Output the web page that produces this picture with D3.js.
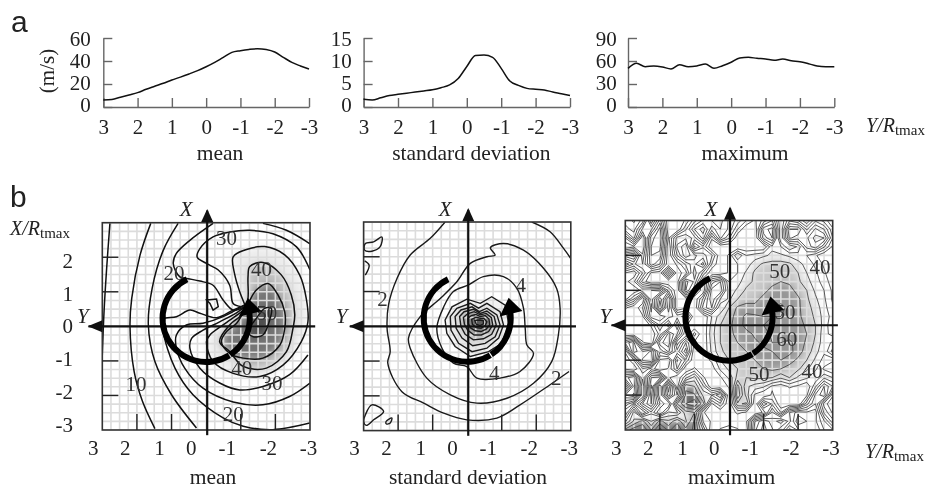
<!DOCTYPE html>
<html>
<head>
<meta charset="utf-8">
<script src="https://cdn.jsdelivr.net/npm/d3@7"></script>
<style>
  html, body { margin: 0; background: #fff; }
  svg { display: block; filter: blur(0.45px); }
  text { font-family: "Liberation Serif", serif; fill: #222; }
</style>
</head>
<body>
<svg id="chart" width="927" height="489"></svg>
<script>
// profiles along Y/Rtmax, one value every 0.25
const profileY = [3,2.75,2.5,2.25,2,1.75,1.5,1.25,1,0.75,0.5,0.25,0,-0.25,-0.5,-0.75,-1,-1.25,-1.5,-1.75,-2,-2.25,-2.5,-2.75,-3]
const meanProfile = [6,6.5,8.5,10.5,12.5,15.4,18,20.6,23.5,26,28.7,31.6,35,38.8,43.2,47.5,49,50.1,50.7,50,47.8,43.2,38.8,35.7,33]
const stdProfile = [1.67,1.5,2,2.5,2.75,3,3.25,3.5,3.75,4.2,4.8,6.2,8.8,11.2,11.3,10.8,8.4,5.65,4.7,4.05,3.85,3.7,3.25,2.9,2.5]
const maxProfile = [50.4,57,52.6,53.5,52.2,49.6,55.2,52.6,53.5,56,50.4,53.9,58.3,63.9,64.8,63.5,62.6,60.9,62.6,60.4,59.1,56.5,53.5,52.6,52.6]

const xTicks = [3,2,1,0,-1,-2,-3]
const meanTicks = [0,20,40,60]
const stdTicks = [0,5,10,15]
const maxTicks = [0,30,60,90]

// contour lines of the mean panel, [Y, X]
const meanLines = [
  [[2.78,2.98],[2.875,1.67],[2.95,0.42],[3,-0.83]],
  [[1.6,2.98],[1.91,2.06],[2.15,0.81],[2.2,0],[2.08,-1.31],[1.84,-2.17],[1.48,-2.96]],
  [[0.81,2.98],[1.24,2.2],[1.56,1.1],[1.67,0.04],[1.48,-1.02],[1,-1.98],[0.28,-2.94]],
  [[-0.2,2.98],[0.47,2.49],[0.86,2.11],[0.95,1.82],[0.76,1.43],[0.52,1.38],[0.18,1.31],[-0.2,1.19],[-0.49,0.76],[-0.78,0.47],[-1.12,0.57]],
  [[-2.99,-2.8],[-1.93,-2.99],[-1.07,-2.89],[-0.49,-2.65],[0.38,-1.98],[0.9,-1.21],[1.24,-0.15],[1.24,0.21],[0.86,0.28],[0.47,0.47],[0.18,0.38],[-0.3,0.25],[-0.78,0.47],[-1.12,0.62]],
  [[-3,-1.64],[-2.41,-2.03],[-1.64,-2.27],[-0.78,-2.19],[0.09,-1.79],[0.62,-1.21],[0.86,-0.63],[0.86,-0.25],[0.57,0.04],[0.09,0.09],[-0.49,0.28],[-1.12,0.62]],
  [[-2.94,-0.83],[-2.41,-1.4],[-1.64,-1.74],[-0.97,-1.84],[-0.39,-1.64],[0.18,-1.21],[0.47,-0.63],[0.42,-0.35],[0.09,-0.11],[-0.39,0.13],[-0.92,0.42],[-1.16,0.62]],
  [[-3,1.63],[-2.61,2.3],[-1.93,2.68],[-1.26,2.78],[-0.68,2.73],[-0.2,2.59],[0.18,2.25],[0.26,2.01],[-0.01,1.82],[-0.35,1.63],[-0.68,1.19],[-0.78,0.66],[-1.02,0.57]],
  [[-3,2.39],[-2.32,2.78],[-1.64,2.98]]
]
const meanRing35 = [[-1.21,0.57],[-0.97,0.38],[-0.49,0.04],[-0.11,-0.25],[-0.01,-0.44],[-0.2,-1.02],[-0.78,-1.36],[-1.55,-1.45],[-2.22,-1.12],[-2.75,-0.44],[-2.94,0.13],[-2.89,0.82],[-2.7,1.49],[-2.27,2.07],[-1.69,2.31],[-1.12,2.21],[-0.78,2.01],[-0.83,1.48],[-0.97,1],[-1.12,0.62]]
const meanRing40 = [[-1.26,1.73],[-1.64,1.85],[-2.17,1.49],[-2.46,0.91],[-2.56,0.34],[-2.51,-0.05],[-2.32,-0.73],[-1.74,-1.21],[-1.07,-1.16],[-0.68,-0.73],[-0.39,-0.44],[-0.68,0.04],[-1.12,0.42],[-1.21,0.82],[-1.21,1.44]]
const meanRing45 = [[-1.21,0.66],[-1.45,1.05],[-1.79,1.24],[-2.08,0.9],[-2.27,0.42],[-2.27,-0.06],[-2.13,-0.54],[-1.64,-0.92],[-1.07,-0.92],[-0.68,-0.78],[-0.44,-0.44],[-0.59,-0.15],[-0.88,0.09]]
const meanRing50 = [[-1.21,-0.15],[-1.36,-0.3],[-1.64,-0.25],[-1.79,0.04],[-1.88,0.52],[-1.69,0.52],[-1.45,0.23]]
const meanLoop = [[-0.01,0.76],[-0.3,0.79],[-0.35,0.57],[-0.2,0.47],[-0.11,0.66]]
const meanLabels = [['30',-0.59,2.58],['20',0.93,1.54],['40',-1.6,1.66],['50',-1.75,0.41],['40',-1.03,-1.2],['30',-1.9,-1.64],['10',2.03,-1.67],['20',-0.78,-2.53]]

// contour lines of the standard deviation panel
const stdOpen = [
  [[0.64,3],[1.07,2.53],[1.65,2.05],[2.03,1.38],[2.28,0.61],[2.32,-0.06],[2.23,-0.73],[2.3,-1.06],[1.89,-1.88],[1.26,-2.21],[0.68,-2.5],[0.01,-2.69],[-0.86,-2.64],[-1.53,-2.26],[-2.4,-1.68],[-2.95,-1.3]],
  [[-1.87,3],[-2.4,2.72],[-2.79,2.24],[-3,1.95]],
  [[2.97,1.88],[2.84,1.76],[2.95,1.47]]
]
const stdClosed = [
  [[-0.81,2.05],[-0.67,2.26],[-1.05,2.38],[-1.63,2.19],[-2.21,1.67],[-2.59,1.09],[-2.69,0.52],[-2.64,-0.25],[-2.45,-1.01],[-1.92,-1.64],[-1.15,-2.07],[-0.28,-2.21],[0.49,-1.97],[1.17,-1.49],[1.65,-0.63],[1.7,-0.34],[1.36,0.28],[0.78,0.8],[0.3,1.28],[-0.09,1.81],[-0.57,2]],
  [[-0.04,1.19],[-0.47,1.43],[-1.05,1.43],[-1.44,1.09],[-1.63,0.52],[-1.68,-0.06],[-1.73,-0.54],[-1.92,-0.78],[-1.53,-1.3],[-0.95,-1.49],[-0.28,-1.49],[0.01,-1.16],[0.4,-1.06],[0.73,-0.63],[0.88,-0.06],[0.68,0.56],[0.4,1]],
  [[2.95,2.38],[2.71,2.43],[2.47,2.57],[2.52,2.29],[2.76,2.16],[2.97,2.19]],
  [[2.95,-2.55],[2.76,-2.26],[2.42,-2.45],[2.71,-2.69],[2.92,-2.85],[3,-2.74]],
  [[2.35,-2.74],[2.18,-2.64],[2.23,-2.78],[2.34,-2.81]]
]
// heart shaped rings round the peak, outside to inside
const stdRings = [
  [[0.64,0.18],[0.44,0.56],[0.01,0.78],[-0.38,0.66],[-0.71,0.85],[-1.1,0.61],[-1.2,0.09],[-1,-0.49],[-0.62,-0.73],[-0.09,-0.87],[0.35,-0.58],[0.59,-0.2]],
  [[0.49,0.28],[0.3,0.52],[-0.09,0.66],[-0.33,0.52],[-0.57,0.66],[-0.95,0.42],[-1.05,0.04],[-0.91,-0.34],[-0.57,-0.63],[-0.14,-0.73],[0.25,-0.49],[0.47,-0.11]],
  [[0.35,0.28],[0.18,0.47],[-0.14,0.56],[-0.35,0.42],[-0.57,0.52],[-0.86,0.33],[-0.95,0.04],[-0.81,-0.3],[-0.52,-0.49],[-0.16,-0.56],[0.15,-0.34],[0.32,-0.06]],
  [[0.22,0.28],[0.09,0.42],[-0.18,0.49],[-0.38,0.37],[-0.57,0.44],[-0.78,0.28],[-0.84,0.04],[-0.71,-0.23],[-0.47,-0.36],[-0.18,-0.39],[0.06,-0.23],[0.18,-0.01]],
  [[0.11,0.25],[-0.01,0.36],[-0.2,0.42],[-0.38,0.33],[-0.55,0.37],[-0.7,0.25],[-0.74,0.04],[-0.62,-0.15],[-0.41,-0.25],[-0.2,-0.25],[-0.01,-0.11],[0.08,0.06]],
  [[-0.02,0.23],[-0.12,0.31],[-0.25,0.34],[-0.38,0.28],[-0.52,0.31],[-0.63,0.21],[-0.65,0.04],[-0.55,-0.08],[-0.4,-0.15],[-0.23,-0.13],[-0.09,-0.04],[-0.03,0.09]],
  [[-0.13,0.2],[-0.25,0.26],[-0.38,0.23],[-0.48,0.23],[-0.57,0.13],[-0.52,0.02],[-0.4,-0.06],[-0.26,-0.04],[-0.15,0.06]],
  [[-0.22,0.17],[-0.36,0.18],[-0.47,0.16],[-0.47,0.07],[-0.37,0.02],[-0.26,0.06]]
]
const stdRingFill = ['#f2f2f2','#e8e8e8','#d8d8d8','#c4c4c4','#a4a4a4','#848484','#6a6a6a','#585858']
const stdLabels = [['2',2.45,0.79],['4',-1.55,1.2],['4',-0.78,-1.32],['2',-2.58,-1.48]]

const maxGrid = [
  [62,66,58,30,52,30,30,36,48,56,60,62,54,48,40,34,42,50,30,44,40,30,44,38,30],
  [58,62,44,44,62,30,30,44,60,68,52,60,54,40,30,30,58,62,30,60,60,44,56,50,36],
  [40,56,30,58,64,34,52,54,48,62,36,56,46,30,30,30,52,60,30,56,52,54,62,60,40],
  [30,34,30,60,62,30,56,64,34,44,30,30,30,30,30,30,30,44,40,30,36,52,58,46,34],
  [58,62,36,60,58,30,50,64,56,52,46,30,36,50,40,42,44,46,46,44,42,40,36,30,30],
  [36,46,40,58,50,30,36,46,54,62,40,30,36,40,42,48,51,52,52,51,47,43,39,34,30],
  [60,64,50,34,32,56,32,38,58,44,30,30,36,40,46,51,52,53,53,52,50,45,41,36,30],
  [62,56,38,30,30,30,32,62,54,30,52,60,40,43,48,51,53,54,55,54,51,47,42,38,32],
  [60,64,58,60,62,44,30,60,46,30,62,64,42,46,51,52,54,56,58,57,53,50,44,40,34],
  [62,50,30,58,36,60,30,32,30,46,64,50,44,50,52,54,56,58,59,58,56,51,46,41,34],
  [36,30,40,62,30,58,30,34,30,52,60,40,50,56,58,56,57,59,61,59,56,52,48,42,36],
  [30,30,34,58,60,52,48,52,30,30,40,48,52,58,61,61,60,60,60,58,56,53,49,43,38],
  [30,30,30,36,50,36,60,36,30,30,42,50,54,57,62,62,60,58,57,58,57,54,50,43,36],
  [30,30,30,30,42,62,50,30,42,30,43,50,54,56,58,61,62,59,57,58,58,55,50,42,38],
  [56,66,36,30,58,64,32,50,34,30,42,50,53,55,57,59,61,60,60,61,58,54,49,42,46],
  [36,68,60,66,46,56,42,58,30,30,41,49,52,54,55,57,59,60,62,62,57,53,47,41,52],
  [30,40,66,70,34,30,56,44,30,32,36,45,50,52,54,55,57,58,60,57,54,50,44,38,36],
  [34,30,44,38,30,36,50,30,36,30,32,41,46,50,52,54,55,56,55,53,51,46,41,34,30],
  [58,64,36,60,62,36,30,44,52,36,30,34,41,52,50,51,51,50,46,50,44,41,36,44,40],
  [36,62,30,66,30,64,32,64,60,46,30,30,36,62,46,43,41,34,32,36,34,30,44,60,50],
  [60,66,30,62,30,58,40,66,66,54,50,60,30,64,48,34,30,36,30,30,30,34,56,64,36],
  [44,34,50,60,40,30,60,70,74,62,34,44,30,54,56,30,54,44,30,30,30,48,60,38,30],
  [30,52,30,44,30,46,44,58,60,36,30,30,32,36,34,30,36,56,40,60,68,66,68,44,34],
  [44,56,62,50,62,56,64,54,66,40,34,30,30,30,34,60,70,62,68,58,74,70,66,56,42],
  [62,68,70,60,72,64,68,62,66,50,30,36,40,36,30,64,72,66,56,72,64,68,70,60,56]
]
const maxThresholds = [35,40,45,50,55,60,65,70]
const maxFill = {45:'#ececec',50:'#c8c8c8',55:'#969696',60:'#686868'}
const maxLabels = [['50',-1.47,1.57],['40',-2.63,1.69],['50',-1.62,0.4],['60',-1.67,-0.37],['50',-0.87,-1.4],['40',-2.4,-1.31]]

const gridStep = d3.range(-3, 3.01, 0.25)
const inner = [2,1,-1,-2]

const svg = d3.select('#chart')
const defs = svg.append('defs')
defs.append('filter').attr('id', 'soft').attr('x', '-20%').attr('y', '-20%').attr('width', '140%').attr('height', '140%')
  .append('feGaussianBlur').attr('stdDeviation', 4)
defs.append('filter').attr('id', 'softer')
  .append('feGaussianBlur').attr('stdDeviation', 1.5)

function subLabel(g, name, x, y) {
  const t = g.append('text').attr('x', x).attr('y', y).attr('font-size', 20)
  t.append('tspan').attr('font-style', 'italic').text(name + '/R')
  t.append('tspan').attr('font-size', 15).attr('dy', 3).text('tmax')
}

// top row
function profile(values, ticks, top, x0, x1, labelEnd, title, titleX) {
  const g = svg.append('g')
  const x = d3.scaleLinear().domain([3, -3]).range([x0, x1])
  const y = d3.scaleLinear().domain([0, top]).range([107, 38])
  const labelY = d3.scaleLinear().domain([0, top]).range([111.5, 45])

  const xAxis = g.append('g').attr('transform', 'translate(0,107)')
    .call(d3.axisBottom(x).tickValues(xTicks).tickFormat(d => String(d)).tickSizeInner(-9).tickSizeOuter(0))
  xAxis.selectAll('text').attr('y', 27).attr('dy', 0).attr('font-size', 21)
    .attr('font-family', 'Liberation Serif').attr('fill', '#222')
  const yAxis = g.append('g').attr('transform', `translate(${x0},0)`)
    .call(d3.axisLeft(y).tickValues(ticks).tickFormat(d => String(d)).tickSizeInner(-9).tickSizeOuter(0))
  yAxis.selectAll('text').attr('x', labelEnd - x0).attr('dy', 0)
    .attr('y', d => labelY(d) - y(d)).attr('font-size', 21)
    .attr('font-family', 'Liberation Serif').attr('fill', '#222')
  g.selectAll('path.domain, .tick line').attr('stroke', '#666').attr('stroke-width', 1.4)

  g.append('path').datum(values)
    .attr('fill', 'none').attr('stroke', '#111').attr('stroke-width', 1.5)
    .attr('d', d3.line().x((d, i) => x(profileY[i])).y(d => y(d)).curve(d3.curveMonotoneX))

  g.append('text').attr('x', titleX).attr('y', 160).attr('text-anchor', 'middle')
    .attr('font-size', 21.5).text(title)
}

profile(meanProfile, meanTicks, 60, 103.3, 309, 90.7, 'mean', 220)
profile(stdProfile, stdTicks, 15, 363.6, 570, 351.7, 'standard deviation', 471.3)
profile(maxProfile, maxTicks, 90, 628, 834.3, 616.7, 'maximum', 745)

// bottom row
function contourPanel(id, x0, x1, y0, y1, title, titleX, drawFills, drawLines, labels, xName, yName) {
  const g = svg.append('g')
  const x = d3.scaleLinear().domain([3, -3]).range([x0, x1])
  const y = d3.scaleLinear().domain([3, -3]).range([y0, y1])
  const unit = x(0) - x(1)

  defs.append('clipPath').attr('id', 'clip' + id).append('rect')
    .attr('x', x0).attr('y', y0).attr('width', x1 - x0).attr('height', y1 - y0)
  const plot = g.append('g').attr('clip-path', `url(#clip${id})`)
  drawFills(plot, x, y)

  // pale grid over the shading
  plot.append('g').selectAll('line').data(gridStep).join('line')
    .attr('x1', d => x(d)).attr('x2', d => x(d)).attr('y1', y0).attr('y2', y1)
    .attr('stroke', '#dcdcdc').attr('stroke-width', 1.6)
  plot.append('g').selectAll('line').data(gridStep).join('line')
    .attr('y1', d => y(d)).attr('y2', d => y(d)).attr('x1', x0).attr('x2', x1)
    .attr('stroke', '#dcdcdc').attr('stroke-width', 1.6)

  drawLines(plot, x, y)

  g.append('rect').attr('x', x0).attr('y', y0).attr('width', x1 - x0).attr('height', y1 - y0)
    .attr('fill', 'none').attr('stroke', '#333').attr('stroke-width', 1.6)
  g.selectAll('line.tx').data(inner).join('line').attr('class', 'tx')
    .attr('x1', d => x(d)).attr('x2', d => x(d)).attr('y1', y1).attr('y2', y1 - 16)
    .attr('stroke', '#222').attr('stroke-width', 1.4)
  g.selectAll('line.ty').data(inner).join('line').attr('class', 'ty')
    .attr('y1', d => y(d)).attr('y2', d => y(d)).attr('x1', x0).attr('x2', x0 + 16)
    .attr('stroke', '#222').attr('stroke-width', 1.4)

  // value labels sit under the thick arc
  g.selectAll('text.val').data(labels).join('text').attr('class', 'val')
    .attr('x', d => x(d[1])).attr('y', d => y(d[2])).attr('dy', '0.35em')
    .attr('text-anchor', 'middle').attr('font-size', 21).style('fill', '#333').text(d => d[0])

  // axes through the middle
  const cx = x(-0.03), cy = y(0)
  g.append('line').attr('x1', x(3.4)).attr('x2', x(-3.15)).attr('y1', cy).attr('y2', cy)
    .attr('stroke', '#111').attr('stroke-width', 2.2)
  g.append('line').attr('x1', cx).attr('x2', cx).attr('y1', y(3.35)).attr('y2', y(-3.15))
    .attr('stroke', '#111').attr('stroke-width', 2.2)
  g.append('path').attr('fill', '#111').attr('d', d3.line()([
    [x(3.42), cy], [x(3), cy - 6], [x(3), cy + 6]]))
  g.append('path').attr('fill', '#111').attr('d', d3.line()([
    [cx, y(3.4)], [cx - 6, y(3.02)], [cx + 6, y(3.02)]]))

  // thick rotating arrow
  const ax = x(0), ay = y(0.23), rad = 1.26 * unit
  const deg = Math.PI / 180
  const arc = d3.arc().innerRadius(rad - 3).outerRadius(rad + 3)
  const pieces = [[-26, -212], [-213.5, -278]]
  g.selectAll('path.sweep').data(pieces).join('path').attr('class', 'sweep')
    .attr('transform', `translate(${ax},${ay})`).attr('fill', '#000')
    .attr('d', d => arc({startAngle: d[0] * deg, endAngle: d[1] * deg}))
  g.append('path').attr('fill', '#000').attr('d', d3.line()([
    [x(-1.2), y(0.82)], [x(-0.94), y(0.28)], [x(-1.6), y(0.44)]]))

  g.append('text').attr('x', x(0) + xName).attr('y', 216).attr('text-anchor', 'middle')
    .attr('font-size', 21).attr('font-style', 'italic').text('X')
  g.append('text').attr('x', x0 + yName).attr('y', 323).attr('text-anchor', 'middle')
    .attr('font-size', 21).attr('font-style', 'italic').text('Y')

  // label positions drift a little from the ticks in the original
  const labelShift = [-9, -11.6, -12, -14.8, -13.4, -7, -1.6]
  g.selectAll('text.xt').data(xTicks).join('text').attr('class', 'xt')
    .attr('x', (d, i) => x(d) + labelShift[i]).attr('y', 455).attr('text-anchor', 'middle')
    .attr('font-size', 21).text(d => d)
  g.append('text').attr('x', titleX).attr('y', 484).attr('text-anchor', 'middle')
    .attr('font-size', 21.5).text(title)
}

const toLine = (x, y) => d3.line().x(d => x(d[0])).y(d => y(d[1]))

contourPanel('m', 102.3, 310, 222.7, 430, 'mean', 213,
  (plot, x, y) => {
    const line = toLine(x, y).curve(d3.curveCatmullRomClosed)
    const s = plot.append('g').attr('filter', 'url(#soft)')
    const shades = [[meanRing35, '#ececec'], [meanRing40, '#c0c0c0'], [meanRing45, '#747474'], [meanRing50, '#484848']]
    s.selectAll('path').data(shades).join('path').attr('d', d => line(d[0])).attr('fill', d => d[1])
  },
  (plot, x, y) => {
    const open = toLine(x, y).curve(d3.curveCatmullRom)
    const closed = toLine(x, y).curve(d3.curveCatmullRomClosed)
    const strokes = sel => sel.attr('fill', 'none').attr('stroke', '#111').attr('stroke-width', 1.5)
    strokes(plot.append('g').selectAll('path').data(meanLines).join('path').attr('d', open))
    strokes(plot.append('path').datum(meanRing35).attr('d', open))
    strokes(plot.append('g').selectAll('path').data([meanRing40, meanRing45, meanRing50]).join('path').attr('d', closed))
    strokes(plot.append('path').datum(meanLoop).attr('d', toLine(x, y).curve(d3.curveLinearClosed)))
  },
  meanLabels, -20, -19.5)

contourPanel('s', 363.6, 570.8, 222, 430.6, 'standard deviation', 468,
  (plot, x, y) => {
    const line = toLine(x, y).curve(d3.curveLinearClosed)
    plot.append('g').attr('filter', 'url(#softer)').selectAll('path').data(stdRings).join('path')
      .attr('d', line).attr('fill', (d, i) => stdRingFill[i])
  },
  (plot, x, y) => {
    const open = toLine(x, y).curve(d3.curveCatmullRom)
    const closed = toLine(x, y).curve(d3.curveCatmullRomClosed)
    const ring = toLine(x, y).curve(d3.curveLinearClosed)
    const strokes = sel => sel.attr('fill', 'none').attr('stroke', '#1a1a1a').attr('stroke-width', 1.4)
    strokes(plot.append('g').selectAll('path').data(stdOpen).join('path').attr('d', open))
    strokes(plot.append('g').selectAll('path').data(stdClosed).join('path').attr('d', closed))
    strokes(plot.append('g').selectAll('path').data(stdRings).join('path').attr('d', ring))
  },
  stdLabels, -22, -22)

contourPanel('x', 625.3, 832.7, 220.5, 430, 'maximum', 731.7,
  (plot, x, y) => {
    // only the big central area is shaded, the small outer patches stay white
    const shaded = maxContours().filter(d => maxFill[d.value]).map(d => ({
      type: 'MultiPolygon',
      value: d.value,
      coordinates: [d3.greatest(d.coordinates, p => Math.abs(d3.polygonArea(p[0])))]
    }))
    plot.append('g').attr('filter', 'url(#soft)').selectAll('path').data(shaded).join('path')
      .attr('d', maxPath(x, y)).attr('fill', d => maxFill[d.value])
  },
  (plot, x, y) => {
    plot.append('g').selectAll('path').data(maxContours()).join('path')
      .attr('d', maxPath(x, y)).attr('fill', 'none').attr('stroke', '#484848').attr('stroke-width', 0.9)
  },
  maxLabels, -18, -20)

function maxContours() {
  return d3.contours().size([25, 25]).thresholds(maxThresholds)(maxGrid.flat())
}

function maxPath(x, y) {
  // grid cells to chart units, 0.25 apart
  const proj = d3.geoTransform({
    point(a, b) { this.stream.point(x(3 - (a - 0.5) * 0.25), y(3 - (b - 0.5) * 0.25)) }
  })
  return d3.geoPath(proj)
}

// left labels of the bottom row
const bottomLabels = [2,1,0,-1,-2,-3]
const bottomLabelY = d3.scaleLinear().domain([2, -3]).range([267.7, 431.7])
svg.selectAll('text.yt').data(bottomLabels).join('text').attr('class', 'yt')
  .attr('x', 73).attr('y', d => bottomLabelY(d)).attr('text-anchor', 'end')
  .attr('font-size', 21).text(d => d)

svg.append('text').attr('transform', 'translate(54,71) rotate(-90)').attr('text-anchor', 'middle')
  .attr('font-size', 21).text('(m/s)')

subLabel(svg, 'Y', 866, 132)
subLabel(svg, 'Y', 865, 458)
subLabel(svg, 'X', 10, 235)

svg.append('text').attr('x', 11).attr('y', 32).attr('font-size', 30).style('font-family', 'Liberation Sans').text('a')
svg.append('text').attr('x', 10).attr('y', 207).attr('font-size', 30).style('font-family', 'Liberation Sans').text('b')
</script>
</body>
</html>
